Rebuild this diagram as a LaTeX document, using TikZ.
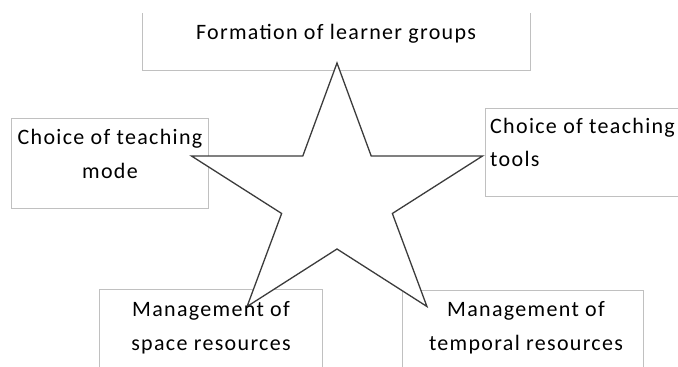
\documentclass[tikz,border=0pt]{standalone}
\usepackage{fontspec}
\setmainfont{Carlito}[LetterSpace=6]
\definecolor{boxgray}{RGB}{192,192,192}
\definecolor{stargray}{RGB}{60,60,60}

\begin{document}
\begin{tikzpicture}[x=1pt,y=-1pt,
	frame/.style={anchor=north west,inner sep=0pt,outer sep=0pt},
	boxline/.style={draw=boxgray,line width=0.9pt},
	starline/.style={draw=stargray,fill=white,line width=1.3pt,line join=miter},
	txt/.style={font=\fontsize{22}{33.5}\selectfont,align=center,anchor=base,inner sep=0pt}]
	\useasboundingbox (0,0) rectangle (678,367);
	\clip (0,0) rectangle (678,367);
	\node[frame,minimum width=388,minimum height=57] (groupsbox) at (142.7,13) {};
	\node[frame,boxline,minimum width=196.6,minimum height=90] (modebox) at (11.7,118.3) {};
	\node[frame,boxline,minimum width=240,minimum height=88.4] (toolsbox) at (485.7,108.3) {};
	\node[frame,boxline,minimum width=223.4,minimum height=100] (spacebox) at (99.3,289) {};
	\node[frame,boxline,minimum width=240.6,minimum height=100] (temporalbox) at (402.7,290) {};
	\draw[boxline] (groupsbox.north west) -- (groupsbox.south west) -- (groupsbox.south east) -- (groupsbox.north east);
	\coordinate (c) at (337,197.6);
	\foreach \k in {0,...,4} {
		\coordinate (o\k) at ([shift={(-90+72*\k:153 and 134.6)}]c);
		\coordinate (i\k) at ([shift={(-54+72*\k:58.2 and 51.4)}]c);
	}
	\draw[starline] (o0) -- (i0) -- (o1) -- (i1) -- (o2) -- (i2) -- (o3) -- (i3) -- (o4) -- (i4) -- cycle;
	\node[txt] (groups) at (336,39) {Formation of learner groups};
	\node[txt] (mode) at (110,178.3) {Choice of teaching\\mode};
	\node[txt,align=left,anchor=base west] (tools) at (490,166.7) {Choice of teaching\\tools};
	\node[txt] (space) at (211,350) {Management of\\space resources};
	\node[txt] (temporal) at (526,350) {Management of\\temporal resources};
\end{tikzpicture}
\end{document}
